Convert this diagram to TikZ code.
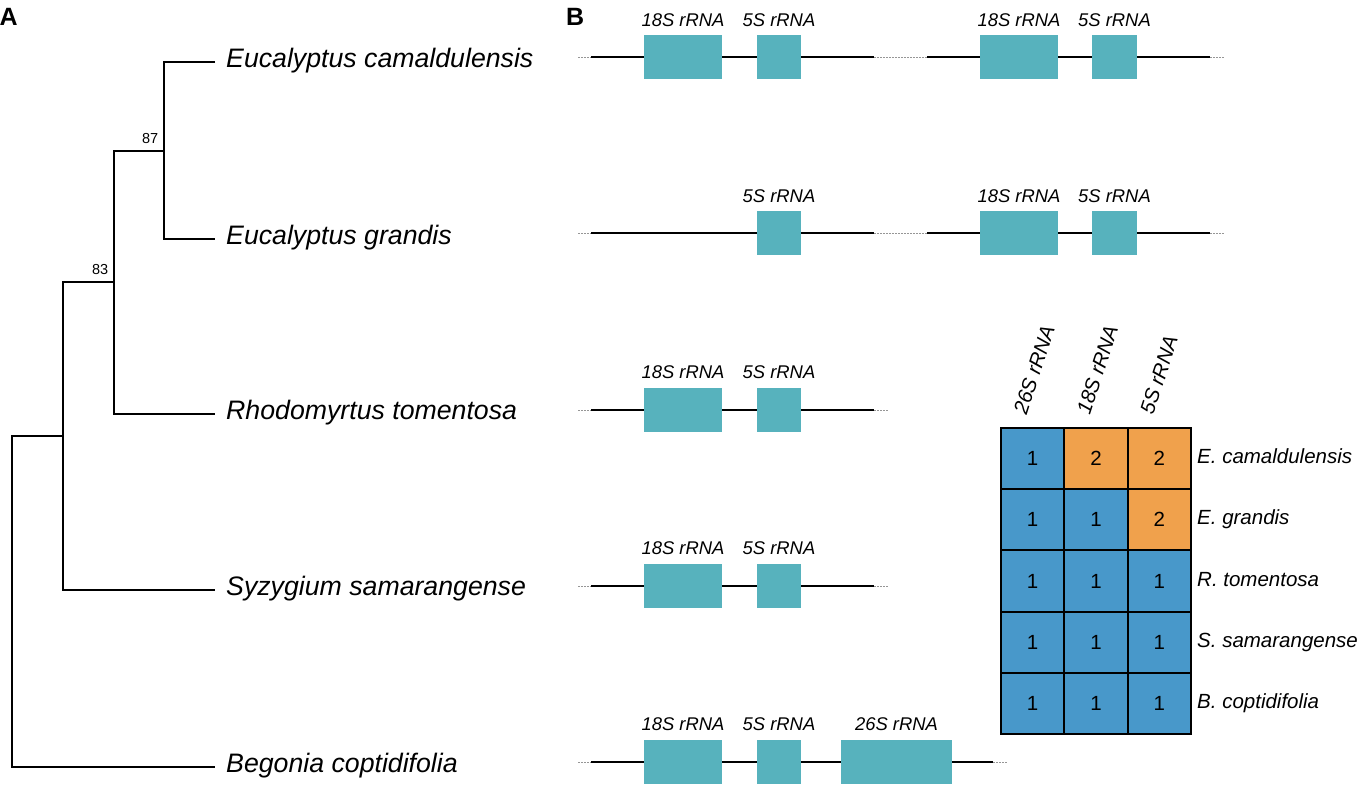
\documentclass[tikz,border=0pt]{standalone}
\usepackage{fontspec}
\setmainfont{Liberation Sans}
\definecolor{teal}{RGB}{87,178,189}
\definecolor{cellblue}{RGB}{72,152,202}
\definecolor{cellorange}{RGB}{240,161,76}
\definecolor{dotgray}{RGB}{150,150,150}
\tikzset{
  branch/.style={line width=2pt, line join=miter},
  tiplab/.style={anchor=base west, inner sep=0pt, font=\fontsize{26.7}{30}\selectfont\itshape},
  boot/.style={anchor=base east, inner sep=0pt, font=\fontsize{14.5}{17}\selectfont},
  panel/.style={anchor=base west, inner sep=0pt, font=\fontsize{25}{28}\selectfont\bfseries},
  gline/.style={line width=2.6pt},
  gdots/.style={dotgray, line width=1pt, dash pattern=on 1.5pt off 1.5pt},
  gbox/.style={fill=teal, draw=none, inner sep=0pt, minimum height=44},
  glab/.style={anchor=base, inner sep=0pt, font=\fontsize{18.4}{21}\selectfont\itshape},
  cell/.style={draw=black, line width=2pt, inner sep=0pt, minimum width=63.3, minimum height=61.2, font=\fontsize{20.5}{23}\selectfont},
  rowlab/.style={anchor=base west, inner sep=0pt, font=\fontsize{20.5}{23}\selectfont\itshape},
  collab/.style={anchor=base west, inner sep=0pt, rotate=72, font=\fontsize{20.5}{23}\selectfont\itshape}
}
\begin{document}
\begin{tikzpicture}[x=1pt,y=-1pt]
\useasboundingbox (0,0) rectangle (1366,787);

% ---------------- Panel A: tree ----------------
\node[panel] (pA) at (-0.5,25) {A};
\coordinate (t1) at (215,62);
\coordinate (t2) at (215,239);
\coordinate (t3) at (215,414);
\coordinate (t4) at (215,590);
\coordinate (t5) at (215,767);
\coordinate (n87) at (164,150.5);
\coordinate (n83) at (114,282);
\coordinate (n3) at (63,436);
\coordinate (root) at (12,601.5);

\draw[branch] (t1) -| (n87) |- (t2);
\draw[branch] (n87) -| (n83) |- (t3);
\draw[branch] (n83) -| (n3) |- (t4);
\draw[branch] (n3) -| (root) |- (t5);

\node[boot] (b87) at (158.5,143) {87};
\node[boot] (b83) at (108.5,274.5) {83};

\node[tiplab] (l1) at (226,67) {Eucalyptus camaldulensis};
\node[tiplab] (l2) at (226,244) {Eucalyptus grandis};
\node[tiplab] (l3) at (226,419) {Rhodomyrtus tomentosa};
\node[tiplab] (l4) at (226,595) {Syzygium samarangense};
\node[tiplab] (l5) at (226,772) {Begonia coptidifolia};

% ---------------- Panel B: gene structures ----------------
\node[panel] (pB) at (566,25) {B};

% Row 1: E. camaldulensis
\coordinate (r1a) at (578,57);  \coordinate (r1b) at (591,57);
\coordinate (r1c) at (874,57);  \coordinate (r1d) at (927,57);
\coordinate (r1e) at (1210,57); \coordinate (r1f) at (1224,57);
\draw[gdots] (r1a) -- (r1b);
\draw[gline] (r1b) -- (r1c);
\draw[gdots] (r1c) -- (r1d);
\draw[gline] (r1d) -- (r1e);
\draw[gdots] (r1e) -- (r1f);
\node[gbox, minimum width=78] (r1x18) at (683,57) {};
\node[gbox, minimum width=44] (r1x5) at (779,57) {};
\node[gbox, minimum width=78] (r1y18) at (1019,57) {};
\node[gbox, minimum width=45] (r1y5) at (1114.5,57) {};
\node[glab] at (683,26) {18S rRNA};
\node[glab] at (779,26) {5S rRNA};
\node[glab] at (1019,26) {18S rRNA};
\node[glab] at (1114.5,26) {5S rRNA};

% Row 2: E. grandis
\coordinate (r2a) at (578,233);  \coordinate (r2b) at (591,233);
\coordinate (r2c) at (874,233);  \coordinate (r2d) at (927,233);
\coordinate (r2e) at (1210,233); \coordinate (r2f) at (1224,233);
\draw[gdots] (r2a) -- (r2b);
\draw[gline] (r2b) -- (r2c);
\draw[gdots] (r2c) -- (r2d);
\draw[gline] (r2d) -- (r2e);
\draw[gdots] (r2e) -- (r2f);
\node[gbox, minimum width=44] (r2x5) at (779,233) {};
\node[gbox, minimum width=78] (r2y18) at (1019,233) {};
\node[gbox, minimum width=45] (r2y5) at (1114.5,233) {};
\node[glab] at (779,202) {5S rRNA};
\node[glab] at (1019,202) {18S rRNA};
\node[glab] at (1114.5,202) {5S rRNA};

% Row 3: R. tomentosa
\coordinate (r3a) at (578,410); \coordinate (r3b) at (591,410);
\coordinate (r3c) at (874,410); \coordinate (r3d) at (888,410);
\draw[gdots] (r3a) -- (r3b);
\draw[gline] (r3b) -- (r3c);
\draw[gdots] (r3c) -- (r3d);
\node[gbox, minimum width=78] (r3x18) at (683,410) {};
\node[gbox, minimum width=44] (r3x5) at (779,410) {};
\node[glab] at (683,378) {18S rRNA};
\node[glab] at (779,378) {5S rRNA};

% Row 4: S. samarangense
\coordinate (r4a) at (578,586); \coordinate (r4b) at (591,586);
\coordinate (r4c) at (874,586); \coordinate (r4d) at (888,586);
\draw[gdots] (r4a) -- (r4b);
\draw[gline] (r4b) -- (r4c);
\draw[gdots] (r4c) -- (r4d);
\node[gbox, minimum width=78] (r4x18) at (683,586) {};
\node[gbox, minimum width=44] (r4x5) at (779,586) {};
\node[glab] at (683,554) {18S rRNA};
\node[glab] at (779,554) {5S rRNA};

% Row 5: B. coptidifolia
\coordinate (r5a) at (578,762); \coordinate (r5b) at (591,762);
\coordinate (r5c) at (993,762); \coordinate (r5d) at (1007,762);
\draw[gdots] (r5a) -- (r5b);
\draw[gline] (r5b) -- (r5c);
\draw[gdots] (r5c) -- (r5d);
\node[gbox, minimum width=78] (r5x18) at (683,762) {};
\node[gbox, minimum width=44] (r5x5) at (779,762) {};
\node[gbox, minimum width=111] (r5x26) at (896.5,762) {};
\node[glab] at (683,730) {18S rRNA};
\node[glab] at (779,730) {5S rRNA};
\node[glab] at (896.5,730) {26S rRNA};

% ---------------- Copy-number table ----------------
\node[collab] (h1) at (1026.5,416) {26S rRNA};
\node[collab] (h2) at (1089.8,416) {18S rRNA};
\node[collab] (h3) at (1153.1,416) {5S rRNA};

% row 1
\node[cell, fill=cellblue]   (c11) at (1032.65,458.6) {1};
\node[cell, fill=cellorange] (c12) at (1095.95,458.6) {2};
\node[cell, fill=cellorange] (c13) at (1159.25,458.6) {2};
% row 2
\node[cell, fill=cellblue]   (c21) at (1032.65,519.8) {1};
\node[cell, fill=cellblue]   (c22) at (1095.95,519.8) {1};
\node[cell, fill=cellorange] (c23) at (1159.25,519.8) {2};
% row 3
\node[cell, fill=cellblue] (c31) at (1032.65,581.0) {1};
\node[cell, fill=cellblue] (c32) at (1095.95,581.0) {1};
\node[cell, fill=cellblue] (c33) at (1159.25,581.0) {1};
% row 4
\node[cell, fill=cellblue] (c41) at (1032.65,642.2) {1};
\node[cell, fill=cellblue] (c42) at (1095.95,642.2) {1};
\node[cell, fill=cellblue] (c43) at (1159.25,642.2) {1};
% row 5
\node[cell, fill=cellblue] (c51) at (1032.65,703.4) {1};
\node[cell, fill=cellblue] (c52) at (1095.95,703.4) {1};
\node[cell, fill=cellblue] (c53) at (1159.25,703.4) {1};

\node[rowlab] (e1) at (1197,463.6) {E. camaldulensis};
\node[rowlab] (e2) at (1197,524.8) {E. grandis};
\node[rowlab] (e3) at (1197,586.0) {R. tomentosa};
\node[rowlab] (e4) at (1197,647.2) {S. samarangense};
\node[rowlab] (e5) at (1197,708.4) {B. coptidifolia};
\end{tikzpicture}
\end{document}
